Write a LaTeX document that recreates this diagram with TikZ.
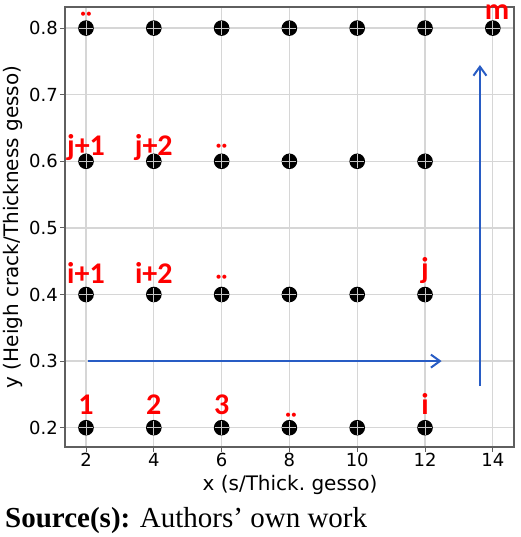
\documentclass[tikz,border=0pt]{standalone}
\usepackage{fontspec}
\setmainfont{Liberation Serif}
\newfontfamily\plotfont{DejaVu Sans}
\newfontfamily\labfont{Carlito}
\usetikzlibrary{arrows.meta}

\definecolor{gridgray}{RGB}{214,214,214}
\definecolor{spinegray}{RGB}{95,95,95}
\definecolor{flowblue}{RGB}{40,92,196}
\definecolor{labred}{RGB}{255,0,0}

\tikzset{
    pt/.style={circle, fill=black, inner sep=0pt, minimum size=15.6pt},
    lab/.style={labred, anchor=base, inner sep=0pt, font=\labfont\bfseries\fontsize{30}{30}\selectfont},
    ticklab/.style={inner sep=0pt, font=\plotfont\fontsize{18}{18}\selectfont},
    axlab/.style={inner sep=0pt, font=\plotfont\fontsize{20}{20}\selectfont},
    flow/.style={flowblue, line width=2pt, -{Straight Barb[length=9pt,width=13pt]}},
}

\begin{document}
\begin{tikzpicture}[x=33.9pt, y=666pt]
    \useasboundingbox (-0.537,0.0359) rectangle (14.802,0.8422);

    % Grid
    \foreach \x in {2,4,...,14}
        \draw[gridgray, line width=1.3pt] (\x,0.171) -- (\x,0.8317);
    \foreach \y in {0.2,0.3,0.4,0.5,0.6,0.7,0.8}
        \draw[gridgray, line width=1.3pt] (1.381,\y) -- (14.625,\y);

    % Frame, ticks and tick labels
    \draw[spinegray, line width=1.1pt] (1.381,0.171) rectangle (14.625,0.8317);
    \foreach \x in {2,4,...,14} {
        \draw[spinegray, line width=1pt] (\x,0.171) -- (\x,0.1635);
        \node[ticklab, anchor=north] at (\x,0.162) {\x};
    }
    \foreach \y in {0.2,0.3,0.4,0.5,0.6,0.7,0.8} {
        \draw[spinegray, line width=1pt] (1.381,\y) -- (1.233,\y);
        \node[ticklab, anchor=east] at (1.174,\y) {\y};
    }

    % Axis labels
    \node[axlab] (xlab) at (8.018,0.114) {x (s/Thick.\ gesso)};
    \node[axlab, rotate=90] (ylab) at (-0.153,0.5013) {y (Heigh crack/Thickness gesso)};

    % Grid points
    \foreach \y/\r in {0.2/a,0.4/b,0.6/c} {
        \foreach \x in {2,4,...,12} {
            \node[pt] (p\r\x) at (\x,\y) {};
            \draw[gray!45, line width=0.8pt] (\x,\y) ++(-7pt,0) -- ++(14pt,0)
                (\x,\y) ++(0,-7pt) -- ++(0,14pt);
        }
    }
    \foreach \x in {2,4,...,14} {
        \node[pt] (pd\x) at (\x,0.8) {};
        \draw[gray!45, line width=0.8pt] (\x,0.8) ++(-7pt,0) -- ++(14pt,0)
            (\x,0.8) ++(0,-7pt) -- ++(0,14pt);
    }

    % Point labels
    \node[lab] (l1) at (2,0.2191) {1};
    \node[lab] (l2) at (4,0.2191) {2};
    \node[lab] (l3) at (6,0.2191) {3};
    \node[lab] (la) at (8.05,0.191) {¨};
    \node[lab] (li) at (12,0.2191) {i};
    \node[lab] (li1) at (2,0.4158) {i+1};
    \node[lab] (li2) at (4,0.4158) {i+2};
    \node[lab] (lb) at (6,0.3982) {¨};
    \node[lab] (lj) at (12,0.4233) {j};
    \node[lab] (lj1) at (2,0.608) {j+1};
    \node[lab] (lj2) at (4,0.608) {j+2};
    \node[lab] (lc) at (6,0.5949) {¨};
    \node[lab] (ld) at (2,0.7927) {¨};
    \node[lab] (lm) at (14.124,0.8125) {m};

    % Sweep arrows
    \coordinate (hs) at (2.068,0.3);
    \coordinate (he) at (12.49,0.3);
    \coordinate (vs) at (13.62,0.2626);
    \coordinate (ve) at (13.62,0.7446);
    \draw[flow] (hs) -- (he);
    \draw[flow] (vs) -- (ve);

    % Source line
    \node[anchor=base west, inner sep=0pt, font=\fontsize{29}{29}\selectfont] (src)
        at (-0.389,0.0509) {\textbf{Source(s):} Authors’ own work};
\end{tikzpicture}
\end{document}
